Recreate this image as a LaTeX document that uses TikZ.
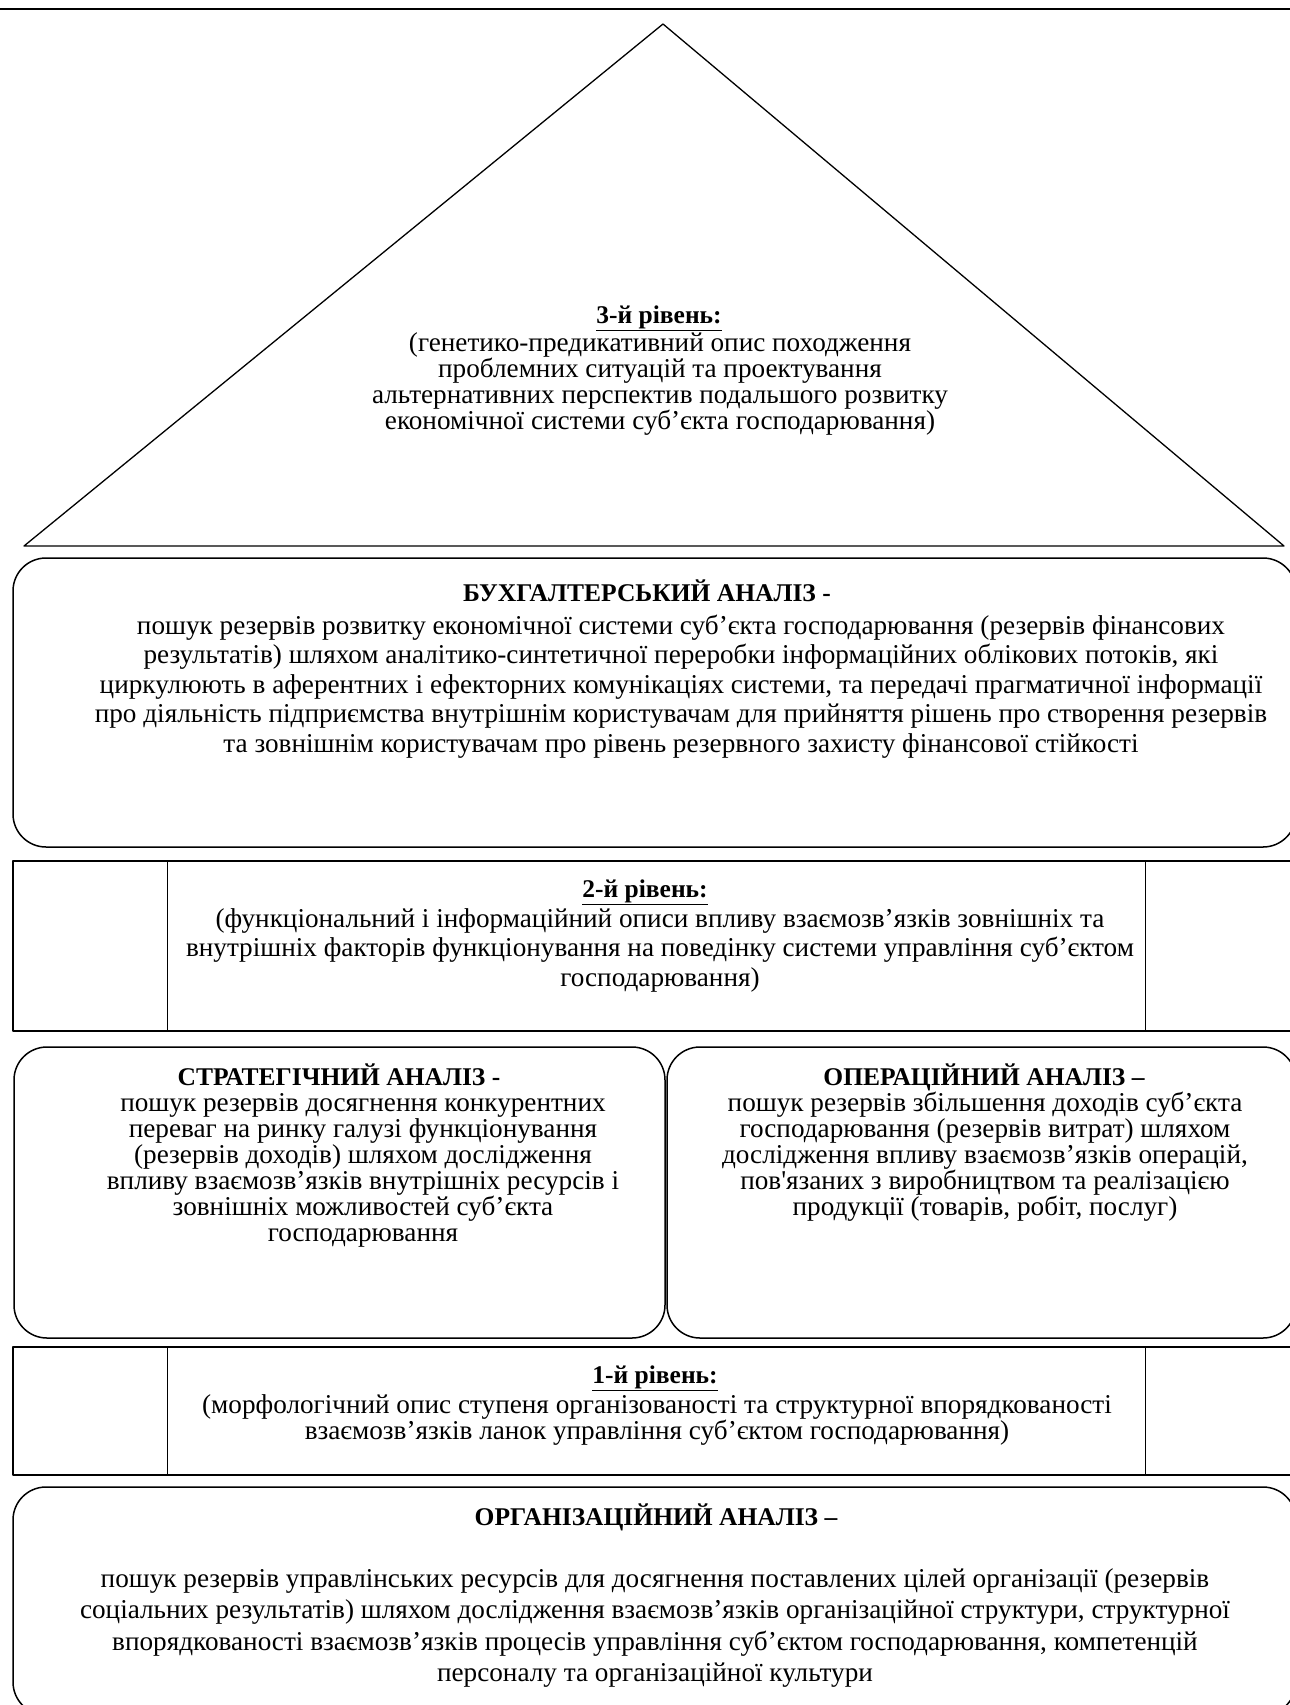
\documentclass[tikz,border=0pt]{standalone}
\usepackage{fontspec}
\setmainfont{Liberation Serif}
\begin{document}
\begin{tikzpicture}[x=1pt,y=-1pt,line join=round,
  frame/.style={draw,line width=1.5pt},
  rbox/.style={draw,line width=1.5pt,rounded corners=33pt,inner sep=0pt},
  ttl/.style={font=\fontsize{25.5}{30}\selectfont\bfseries,inner sep=0pt,anchor=base},
  txt/.style={font=\fontsize{27.2}{30}\selectfont,inner sep=0pt,anchor=base}]
\useasboundingbox (0,0) rectangle (1290,1705);
% top rule
\coordinate (tl) at (0,9);
\coordinate (tr) at (1290,9);
\draw[line width=2.2pt] (tl) -- (tr);
% triangle
\coordinate (ta) at (663,24);
\coordinate (tbl) at (24,546);
\coordinate (tbr) at (1284,546);
\draw[line width=1.3pt] (tbl) -- (ta) -- (tbr) -- cycle;
\node[ttl] (t3) at (659,323) {\underline{3-й рівень:}};
\foreach \s [count=\i from 0] in {{(генетико-предикативний опис походження},{проблемних ситуацій та проектування},{альтернативних перспектив подальшого розвитку},{економічної системи суб’єкта господарювання)}}
  \node[txt] (t3-\i) at (660,351+26*\i) {\s};
% accounting analysis
\node[rbox,minimum width=1283pt,minimum height=289pt] (acc) at (654.5,702.5) {};
\node[ttl] (acct) at (647,601) {БУХГАЛТЕРСЬКИЙ АНАЛІЗ -};
\foreach \s [count=\i from 0] in {{пошук резервів розвитку економічної системи суб’єкта господарювання (резервів фінансових},{результатів) шляхом аналітико-синтетичної переробки інформаційних облікових потоків, які},{циркулюють в аферентних і ефекторних комунікаціях системи, та передачі прагматичної інформації},{про діяльність підприємства внутрішнім користувачам для прийняття рішень про створення резервів},{та зовнішнім користувачам про рівень резервного захисту фінансової стійкості}}
  \node[txt] (acc-\i) at (681,634+29.5*\i) {\s};
% level 2 table
\node[frame,minimum width=1287pt,minimum height=170pt,inner sep=0pt] (l2) at (656.5,946) {};
\draw[line width=1.5pt] (l2.north west) ++(155,0) coordinate (l2a) -- (l2a |- l2.south);
\draw[line width=1.5pt] (l2.north west) ++(1133,0) coordinate (l2b) -- (l2b |- l2.south);
\node[ttl] (l2t) at (645,897) {\underline{2-й рівень:}};
\foreach \s [count=\i from 0] in {{(функціональний і інформаційний описи впливу взаємозв’язків зовнішніх та},{внутрішніх факторів функціонування на поведінку системи управління суб’єктом},{господарювання)}}
  \node[txt] (l2-\i) at (660,927+29.5*\i) {\s};
% strategic analysis
\node[rbox,minimum width=651pt,minimum height=291pt] (str) at (339.5,1192.5) {};
\node[ttl] (strt) at (339,1085) {СТРАТЕГІЧНИЙ АНАЛІЗ -};
\foreach \s [count=\i from 0] in {{пошук резервів досягнення конкурентних},{переваг на ринку галузі функціонування},{(резервів доходів) шляхом дослідження},{впливу взаємозв’язків внутрішніх ресурсів і},{зовнішніх можливостей суб’єкта},{господарювання}}
  \node[txt] (str-\i) at (363,1111+26*\i) {\s};
% operational analysis
\node[rbox,minimum width=629pt,minimum height=291pt] (op) at (981.5,1192.5) {};
\node[ttl] (opt) at (984,1085) {ОПЕРАЦІЙНИЙ АНАЛІЗ –};
\foreach \s [count=\i from 0] in {{пошук резервів збільшення доходів суб’єкта},{господарювання (резервів витрат) шляхом},{дослідження впливу взаємозв’язків операцій,},{пов\textquotesingle язаних з виробництвом та реалізацією},{продукції (товарів, робіт, послуг)}}
  \node[txt] (op-\i) at (985,1111+26*\i) {\s};
% level 1 table
\node[frame,minimum width=1287pt,minimum height=128pt,inner sep=0pt] (l1) at (656.5,1411) {};
\draw[line width=1.5pt] (l1.north west) ++(155,0) coordinate (l1a) -- (l1a |- l1.south);
\draw[line width=1.5pt] (l1.north west) ++(1133,0) coordinate (l1b) -- (l1b |- l1.south);
\node[ttl] (l1t) at (655,1383) {\underline{1-й рівень:}};
\foreach \s [count=\i from 0] in {{(морфологічний опис ступеня організованості та структурної впорядкованості},{взаємозв’язків ланок управління суб’єктом господарювання)}}
  \node[txt] (l1-\i) at (657,1413+26.5*\i) {\s};
% organisational analysis
\node[rbox,minimum width=1283pt,minimum height=228pt] (org) at (654.5,1601) {};
\node[ttl] (orgt) at (656,1525) {ОРГАНІЗАЦІЙНИЙ АНАЛІЗ –};
\foreach \s [count=\i from 0] in {{пошук резервів управлінських ресурсів для досягнення поставлених цілей організації (резервів},{соціальних результатів) шляхом дослідження взаємозв’язків організаційної структури, структурної},{впорядкованості взаємозв’язків процесів управління суб’єктом господарювання, компетенцій},{персоналу та організаційної культури}}
  \node[txt] (org-\i) at (655,1587+31.5*\i) {\s};
\end{tikzpicture}
\end{document}
